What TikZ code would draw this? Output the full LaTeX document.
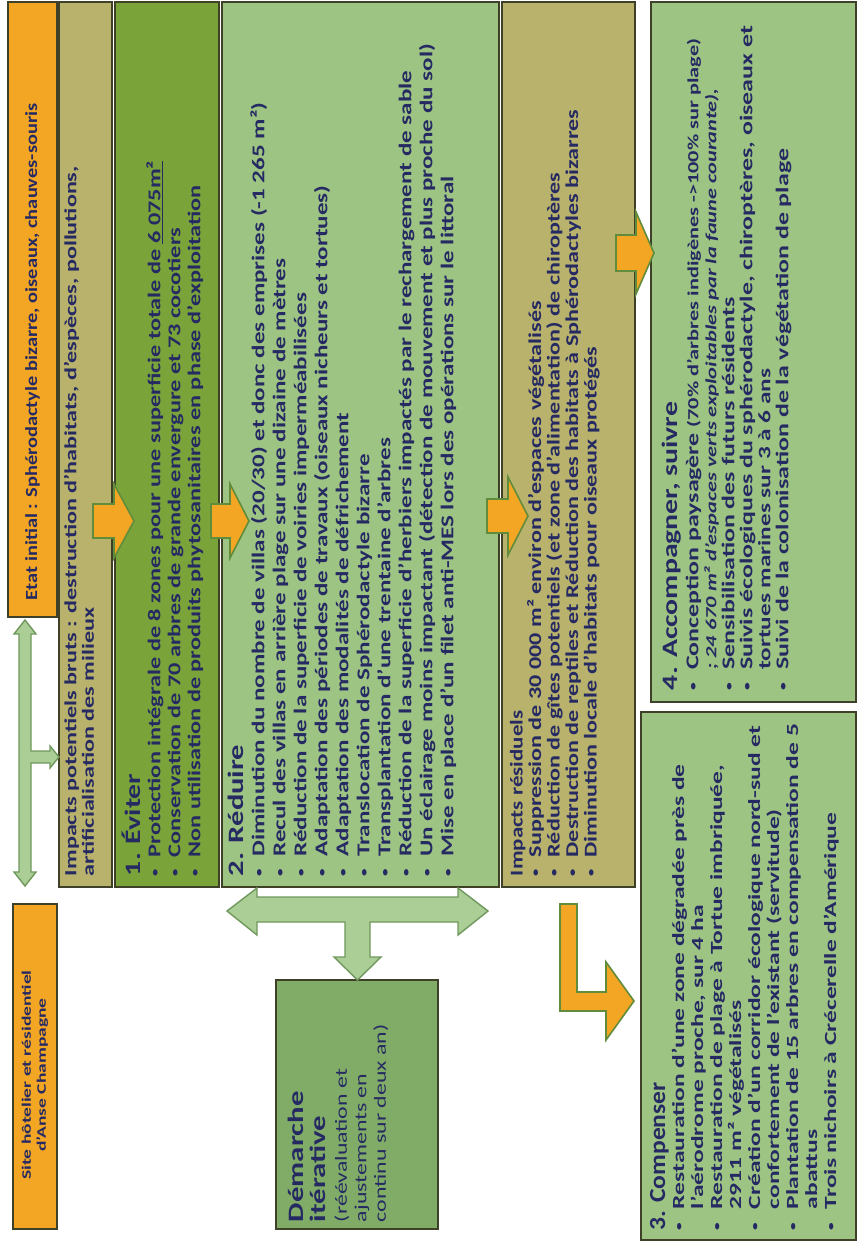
\documentclass[tikz,border=0pt]{standalone}
\usepackage{fontspec}
\setmainfont{Carlito}
\usepackage{graphicx}
\definecolor{orangeA}{RGB}{243,166,35}
\definecolor{khaki}{RGB}{184,178,108}
\definecolor{evgreen}{RGB}{122,164,58}
\definecolor{lgreen}{RGB}{158,196,132}
\definecolor{mgreen}{RGB}{128,172,104}
\definecolor{navy}{RGB}{38,42,98}
\definecolor{edge}{RGB}{62,64,40}
\definecolor{oedge}{RGB}{96,140,60}
\definecolor{garrow}{RGB}{170,206,150}
\definecolor{garrowedge}{RGB}{112,152,92}
\newlength{\bulind}
\setlength{\bulind}{14pt}
\newcommand{\bl}[1]{\par\noindent\hangindent=\bulind\hangafter=1\makebox[\bulind][l]{\raisebox{0.12em}{\scalebox{0.6}{\textbullet}}}{#1}}
\newcommand{\cl}[1]{\par\noindent\hspace*{\bulind}{#1}}
\newcommand{\br}{\hfil\break}
\newcommand{\ttl}[4]{\par\noindent{\fontsize{#2}{#3}\selectfont\scalebox{#1}[1]{#4}\par}}
\newcommand{\rblock}[3]{\rotatebox{90}{\scalebox{#1}[1]{\parbox[b]{#2}{\raggedright\setlength{\parskip}{0pt}#3}}}}
\begin{document}
\begin{tikzpicture}[x=1pt,y=-1pt,
  box/.style={draw=edge, line width=1.2pt, inner sep=0pt, outer sep=0pt, anchor=north west},
  txt/.style={inner sep=0pt, outer sep=0pt, text=navy, font=\bfseries},
  oarrow/.style={fill=orangeA, draw=oedge, line width=1.6pt, line join=miter},
  garr/.style={fill=garrow, draw=garrowedge, line width=1.4pt, line join=miter}]
\useasboundingbox (0,0) rectangle (858,1242);
\fill[white] (0,0) rectangle (858,1242);
% boxes
\node[box, fill=orangeA, minimum width=49pt, minimum height=615pt] (etat) at (8,2) {};
\node[box, fill=khaki, minimum width=53pt, minimum height=885pt] (imp) at (59,2) {};
\node[box, fill=evgreen, minimum width=104pt, minimum height=885pt] (evi) at (115,2) {};
\node[box, fill=lgreen, minimum width=277pt, minimum height=885pt] (red) at (222,2) {};
\node[box, fill=khaki, minimum width=133pt, minimum height=885pt] (res) at (502,2) {};
\node[box, fill=lgreen, minimum width=205pt, minimum height=700pt] (acc) at (651,2) {};
\node[box, fill=lgreen, minimum width=215pt, minimum height=528pt] (comp) at (641,712) {};
\node[box, fill=orangeA, minimum width=44pt, minimum height=325pt] (site) at (13,904) {};
\node[box, fill=mgreen, minimum width=162pt, minimum height=249pt] (dem) at (276,980) {};
% green arrows
\draw[garr] (25,620) -- (36,634) -- (31,634) -- (31,751) -- (50,751) -- (50,746) -- (59,757) -- (50,768) -- (50,763) -- (31,763) -- (31,872) -- (36,872) -- (25,886) -- (14,872) -- (19,872) -- (19,634) -- (14,634) -- cycle;
\draw[garr] (227,911) -- (257,888) -- (257,897) -- (458,897) -- (458,888) -- (488,911) -- (458,935) -- (458,922) -- (370,922) -- (370,957) -- (381,957) -- (357.5,980) -- (334,957) -- (345,957) -- (345,922) -- (257,922) -- (257,935) -- cycle;
% orange arrows
\draw[oarrow] (93,504) -- (114,504) -- (114,484) -- (134,521) -- (114,558) -- (114,538) -- (93,538) -- cycle;
\draw[oarrow] (211,504) -- (230,504) -- (230,484) -- (249,521) -- (230,558) -- (230,538) -- (211,538) -- cycle;
\draw[oarrow] (487,499) -- (508,499) -- (508,477) -- (528,516) -- (508,555) -- (508,533) -- (487,533) -- cycle;
\draw[oarrow] (616,235) -- (636,235) -- (636,212) -- (654,253) -- (636,294) -- (636,271) -- (616,271) -- cycle;
\draw[oarrow] (560,904) -- (577,904) -- (577,992) -- (606,992) -- (606,962) -- (634,1001) -- (606,1040) -- (606,1011) -- (560,1011) -- cycle;
% texts
\node[txt, anchor=south] (etatT) at (32.5,600) {\rblock{1.2}{500pt}{\fontsize{17}{19}\selectfont Etat initial : Sphérodactyle bizarre, oiseaux, chauves-souris}};
\node[txt, anchor=south west] (impT) at (64,876) {\rblock{1.42}{600pt}{\fontsize{17}{17.5}\selectfont Impacts potentiels bruts : destruction d'habitats, d'espèces, pollutions,\br artificialisation des milieux}};
\node[txt, anchor=south west] (eviT) at (122,876) {\rblock{1.35}{620pt}{\ttl{1}{22}{24}{1. Éviter}
\fontsize{18}{20}\selectfont
\bl{Protection intégrale de 8 zones pour une superficie totale de \underline{6 075m²}}
\bl{Conservation de 70 arbres de grande envergure et 73 cocotiers}
\bl{Non utilisation de produits phytosanitaires en phase d'exploitation}}};
\node[txt, anchor=south west] (redT) at (228,876) {\rblock{1.39}{620pt}{\ttl{1}{22}{24}{2. Réduire}
\fontsize{18}{21}\selectfont
\bl{Diminution du nombre de villas (20/30) et donc des emprises (-1 265 m²)}
\bl{Recul des villas en arrière plage sur une dizaine de mètres}
\bl{Réduction de la superficie de voiries imperméabilisées}
\bl{Adaptation des périodes de travaux (oiseaux nicheurs et tortues)}
\bl{Adaptation des modalités de défrichement}
\bl{Translocation de Sphérodactyle bizarre}
\bl{Transplantation d'une trentaine d'arbres}
\bl{Réduction de la superficie d'herbiers impactés par le rechargement de sable}
\bl{Un éclairage moins impactant (détection de mouvement et plus proche du sol)}
\bl{Mise en place d'un filet anti-MES lors des opérations sur le littoral}}};
\node[txt, anchor=south west] (resT) at (510,876) {\rblock{1.34}{620pt}{\ttl{0.95}{18}{20}{Impacts résiduels}
\fontsize{18}{18.5}\selectfont
\bl{Suppression de 30 000 m² environ d'espaces végétalisés}
\bl{Réduction de gîtes potentiels (et zone d'alimentation) de chiroptères}
\bl{Destruction de reptiles et Réduction des habitats à Sphérodactyles bizarres}
\bl{Diminution locale d'habitats pour oiseaux protégés}}};
\node[txt, anchor=south west] (accT) at (662,690) {\rblock{1.44}{470pt}{\ttl{0.94}{22}{24}{4. Accompagner, suivre}
\vspace{3pt}\fontsize{18}{18}\selectfont
\bl{Conception paysagère {\fontsize{15.5}{18}\selectfont (70\% d'arbres indigènes ->100\% sur plage)}}
\cl{\fontsize{15.5}{17}\selectfont\itshape ; 24 670 m² d'espaces verts exploitables par la faune courante),}
\bl{Sensibilisation des futurs résidents}
\bl{Suivis écologiques du sphérodactyle, chiroptères, oiseaux et}
\cl{\fontsize{17.5}{17.5}\selectfont tortues marines sur 3 à 6 ans}
\bl{Suivi de la colonisation de la végétation de plage}}};
\node[txt, anchor=south west] (compT) at (650,1230) {\rblock{1.5}{345pt}{\ttl{0.74}{23}{25}{3. Compenser}
\fontsize{17}{19}\selectfont
\bl{Restauration d'une zone dégradée près de\br l'aérodrome proche, sur 4 ha}
\bl{Restauration de plage à Tortue imbriquée,\br 2911 m² végétalisés}
\bl{Création d'un corridor écologique nord-sud et\br confortement de l'existant (servitude)}
\bl{Plantation de 15 arbres en compensation de 5\br abattus}
\bl{Trois nichoirs à Crécerelle d'Amérique}}};
\node[txt, anchor=south west] (demT) at (288,1222) {\rblock{1.4}{155pt}{\ttl{1}{22}{22}{Démarche}\ttl{1}{22}{22}{itérative}
\vspace{2pt}\mdseries\fontsize{17}{19.5}\selectfont (réévaluation et\br ajustements en\br continu sur deux an)}};
\node[txt] (siteT) at (35,1075) {\rotatebox{90}{\scalebox{1.5}[1]{\parbox{190pt}{\centering\fontsize{13}{15}\selectfont Site hôtelier et résidentiel\\ d'Anse Champagne}}}};
\end{tikzpicture}
\end{document}
